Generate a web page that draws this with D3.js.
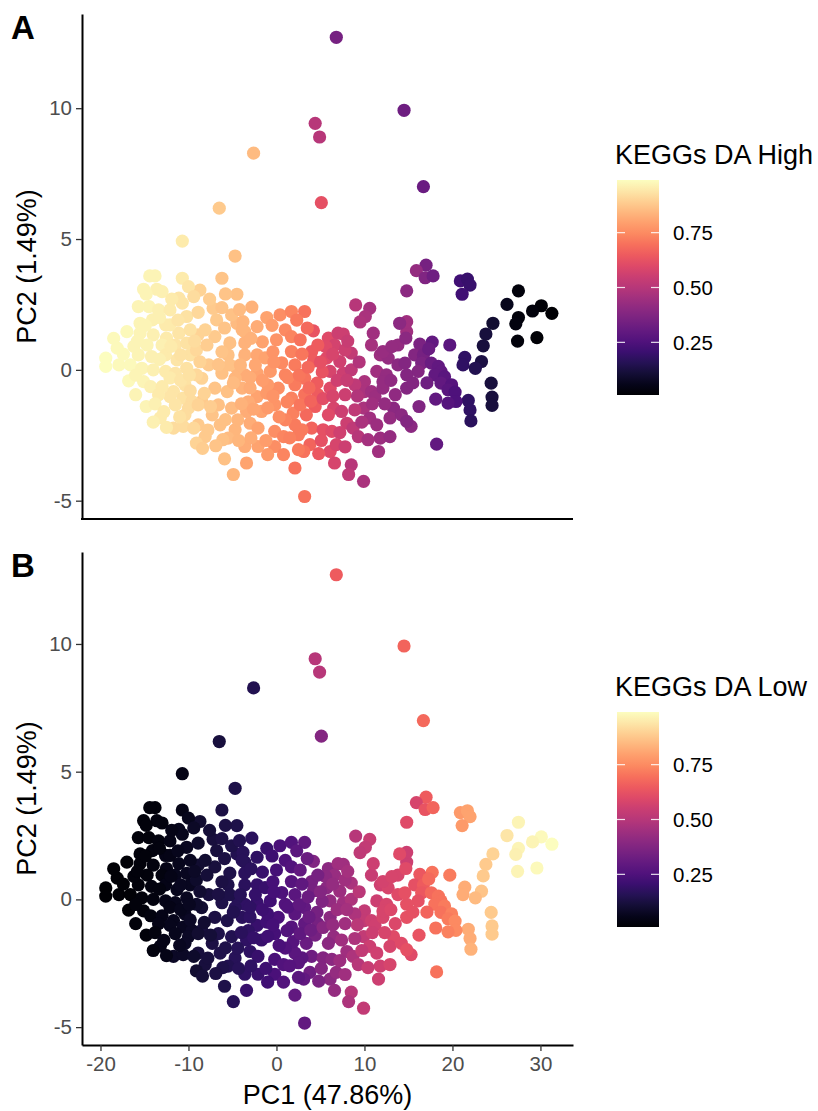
<!DOCTYPE html>
<html><head><meta charset="utf-8">
<script src="https://cdn.jsdelivr.net/npm/d3@7"></script>
<style>body{margin:0;background:#fff} svg{display:block} text{font-family:"Liberation Sans",Arial,sans-serif}</style>
</head><body><svg id="c" width="818" height="1111"></svg>
<script>
// ---- data ----
const pc1 = [
-2.6,-6.5,-10.7,-4.7,6.8,4.4,4.9,14.5,5.1,16.7,
17.0,15.9,16.9,17.8,20.9,21.7,22.0,21.1,14.8,27.5,
26.2,30.1,29.1,31.3,27.5,27.2,24.6,23.8,27.4,29.6,
23.5,23.3,21.4,21.2,22.6,19.7,17.7,16.3,15.7,16.7,
16.5,17.6,18.4,18.7,18.0,19.1,18.7,19.9,19.5,20.3,
16.1,24.4,24.5,24.5,21.8,22.0,22.1,20.4,19.5,18.1,
15.3,18.2,14.8,14.8,9.0,10.6,10.1,3.2,14.0,13.8,
14.7,4.2,5.9,7.0,7.6,6.6,8.5,4.0,4.2,5.7,
7.2,6.1,7.6,8.5,3.2,4.6,6.1,3.2,4.4,6.5,
7.4,5.9,3.4,4.0,2.9,5.3,8.0,8.7,9.3,3.8,
3.1,6.1,6.6,8.5,8.2,9.9,3.2,9.9,10.6,10.0,
10.0,10.8,11.2,12.1,11.4,12.5,11.8,12.7,12.1,13.1,
13.8,14.8,14.8,13.3,12.9,14.2,14.8,11.8,12.9,11.6,
-6.2,-8.7,-4.5,-7.2,-6.2,-6.8,-4.5,-3.8,-2.2,-3.6,
0.4,1.7,1.0,1.7,0.0,-7.0,-8.9,1.7,2.1,1.0,
-3.6,-2.2,-5.5,-0.7,-2.2,-3.6,-4.7,-6.2,-7.7,-8.5,
-7.0,-5.6,-3.9,-2.2,-1.1,0.2,2.1,1.7,-0.2,-1.7,
-3.4,-5.1,-6.6,-8.5,-8.9,-6.4,-4.7,-3.0,-2.1,-0.2,
0.8,2.1,2.5,-0.2,-2.1,-3.6,-5.5,-8.1,-3.4,-4.9,
2.1,-4.5,-13.8,-14.4,-10.7,-15.1,-13.6,-13.0,-10.0,-9.4,
-11.1,-15.7,-14.5,-13.4,-12.1,-10.7,-10.2,-15.5,-14.1,-12.6,
-17.0,-15.5,-14.0,-12.5,-11.1,-9.8,-18.1,-14.7,-13.0,-11.5,
-10.2,-19.4,-19.4,-17.9,-16.6,-15.7,-14.2,-12.6,-11.3,-9.8,
-15.3,-14.0,-12.6,-11.5,-10.2,-16.8,-15.1,-14.3,-13.0,-11.7,
-10.4,-10.6,-9.6,-10.0,-14.8,-11.7,-10.6,-9.4,-9.1,-12.1,
-3.9,5.6,1.9,6.3,2.5,12.1,14.6,-9.1,-7.9,-5.3,
-9.1,-5.3,-3.6,-1.6,-1.3,-3.0,-1.0,-4.4,-7.3,-10.4,
-13.2,-11.5,-13.4,-16.0,-8.9,-12.1,-8.7,-10.9,-12.1,-8.1,
-6.2,-4.1,-2.4,-3.2,-6.1,1.0,0.8,-1.0,2.7,4.7,
5.2,7.8,8.9,6.8,7.8,10.4,13.5,8.9,10.8,9.5,
7.8,4.7,2.7,-0.4,0.6,-1.0,3.7,1.2,
-18.5,-17.4,-16.2,-16.0,-15.8,-14.9,-14.8,-13.3,-13.3,-12.0,
-11.9,-11.2,-10.9,-9.9,-9.3,-8.9,-13.8,-12.8,-12.5,-14.0,
-11.0,-9.8,-8.2,-7.5,-7.8,-8.4,-6.9,-5.9,-7.6,-5.8,
-5.1,-4.2,-2.8,-2.9,-5.9,-6.6,-4.9,-3.0,-1.6,-0.3,
-0.4,-2.6,-4.0,-5.8,-4.3,-2.9,-1.2,0.3,1.5,1.3,
2.9,2.6,3.6,3.9,5.3,5.0,6.4,6.9,6.4,8.0,
8.1,9.4,9.2,9.7,7.2,4.8,5.1,10.9,11.4,12.3,
13.0,11.0,15.5,17.1,17.3,16.2,-1.1,-0.5,2.3,3.5];
const pc2 = [
8.28,6.18,4.92,4.35,12.71,9.42,8.90,9.92,6.39,7.00,
4.00,3.79,3.52,3.59,3.40,3.47,3.24,2.89,3.02,3.02,
2.50,2.45,2.25,2.16,2.00,1.76,1.78,1.37,1.10,1.23,
0.92,0.32,0.48,0.19,0.06,0.95,1.06,0.98,0.57,0.57,
0.26,0.26,0.13,-0.06,-0.19,-0.26,-0.51,-0.57,-0.76,-0.85,
-0.06,-0.51,-1.04,-1.36,-1.17,-1.53,-1.95,-1.21,-1.27,-1.12,
-2.16,-2.84,1.46,1.84,2.48,2.35,2.04,2.23,1.78,0.95,
1.21,1.49,1.21,1.40,1.37,0.95,0.64,0.70,0.34,0.45,
0.32,-0.06,-0.13,0.00,-0.32,-0.51,-0.70,-0.95,-1.40,-1.46,
-1.59,-1.72,-1.72,-2.23,-2.29,-2.29,-2.04,-2.23,-2.55,-2.86,
-3.12,-3.12,-3.56,-3.63,-4.00,-4.26,-4.84,-1.46,-1.84,-0.45,
-0.83,-0.83,-1.02,-0.70,-0.06,-0.19,0.57,0.45,0.70,0.89,
0.19,-0.19,-0.70,-1.46,-1.84,-1.72,-1.97,-2.61,-2.55,-3.12,
3.50,3.05,2.89,2.35,2.38,1.91,1.78,1.84,1.65,1.46,
2.10,2.23,1.53,1.27,1.15,1.27,1.34,0.70,0.19,-0.19,
0.57,0.57,0.57,-0.06,-0.13,-0.19,-0.32,-0.13,0.19,-0.32,
-0.70,-0.83,-0.70,-1.02,-0.89,-0.70,-0.57,-1.08,-1.34,-1.59,
-1.59,-1.46,-1.34,-1.21,-2.10,-2.10,-2.29,-2.04,-2.23,-2.35,
-2.55,-2.10,-3.05,-2.93,-2.93,-2.93,-2.61,-2.55,-3.56,-4.00,
-3.75,0.06,3.59,3.59,3.50,3.08,3.08,2.99,3.18,2.80,
2.74,2.42,2.42,2.29,2.29,2.55,2.04,1.78,1.91,1.72,
1.46,1.40,1.34,1.21,1.40,1.53,0.83,0.95,0.95,0.95,
1.02,0.45,0.13,0.19,0.19,0.57,0.51,0.57,0.38,0.57,
0.06,0.00,-0.06,-0.13,0.06,-0.42,-0.45,-0.64,-0.64,-0.83,
-0.57,-1.08,-1.21,-1.46,-1.40,-2.23,-2.16,-2.23,-2.80,-1.02,
1.53,0.89,-1.65,-2.35,-2.48,-0.45,0.26,0.76,0.95,1.03,
-0.19,0.19,1.03,1.07,0.46,-0.69,-1.45,-1.91,-1.72,-1.72,
-1.83,-1.34,-0.95,-0.95,-1.34,-0.31,0.31,0.57,1.72,1.53,
0.69,0.19,0.19,-1.22,-2.67,-1.91,-3.24,-3.24,-1.34,-0.95,
-0.08,-0.95,-1.53,-2.86,-2.94,-2.67,-0.95,-0.57,0.95,1.83,
0.76,0.95,1.15,0.69,0.27,-0.57,-0.69,-1.22,
1.2,0.6,0.9,-0.2,1.1,1.7,2.9,2.0,0.4,0.9,
2.7,1.9,-0.4,-0.2,1.1,2.2,-1.3,-1.6,-2.2,-2.0,
-1.8,-0.8,-0.9,-1.4,-2.3,-3.0,-2.9,-3.4,2.7,2.9,
2.1,2.3,2.4,1.2,1.6,0.2,-0.5,-0.3,-0.4,0.3,
-1.0,-1.5,-1.3,-1.9,-2.7,-2.6,-2.7,-1.8,-2.6,-0.3,
0.6,-0.2,0.1,-1.2,-1.1,0.3,0.6,-0.4,-1.0,-0.4,
1.1,0.3,-1.0,-2.0,-2.4,-3.2,-2.7,-1.3,-2.1,-1.3,
-0.4,1.4,-0.5,-0.5,0.8,-1.4,2.0,1.7,1.9,1.6];
const daHigh = [
0.85,0.88,0.95,0.86,0.35,0.50,0.50,0.33,0.62,0.32,
0.35,0.42,0.37,0.33,0.22,0.20,0.20,0.22,0.40,0.03,
0.06,0.02,0.03,0.01,0.03,0.04,0.10,0.12,0.03,0.02,
0.12,0.13,0.18,0.18,0.15,0.28,0.30,0.36,0.38,0.35,
0.36,0.32,0.30,0.30,0.30,0.28,0.30,0.27,0.28,0.25,
0.38,0.12,0.12,0.12,0.18,0.18,0.17,0.25,0.27,0.30,
0.40,0.30,0.45,0.45,0.50,0.46,0.47,0.70,0.40,0.42,
0.40,0.63,0.60,0.55,0.55,0.57,0.53,0.65,0.65,0.60,
0.56,0.58,0.55,0.52,0.70,0.65,0.60,0.70,0.65,0.58,
0.55,0.60,0.68,0.67,0.72,0.62,0.55,0.52,0.50,0.67,
0.70,0.60,0.58,0.50,0.52,0.47,0.70,0.47,0.45,0.47,
0.47,0.45,0.44,0.42,0.45,0.42,0.44,0.42,0.43,0.42,
0.40,0.38,0.38,0.40,0.42,0.40,0.38,0.44,0.42,0.45,
0.87,0.90,0.86,0.88,0.87,0.88,0.85,0.84,0.82,0.84,
0.76,0.74,0.75,0.74,0.77,0.88,0.90,0.73,0.72,0.74,
0.83,0.81,0.86,0.78,0.80,0.82,0.84,0.86,0.88,0.90,
0.87,0.86,0.83,0.80,0.78,0.76,0.72,0.73,0.77,0.80,
0.82,0.85,0.86,0.88,0.88,0.86,0.84,0.82,0.80,0.76,
0.74,0.72,0.72,0.76,0.80,0.82,0.85,0.88,0.80,0.84,
0.70,0.84,0.97,0.97,0.95,0.97,0.96,0.96,0.94,0.92,
0.94,0.97,0.97,0.96,0.95,0.94,0.93,0.97,0.96,0.95,
0.98,0.97,0.96,0.95,0.94,0.93,0.98,0.97,0.96,0.94,
0.93,0.99,0.99,0.98,0.98,0.97,0.96,0.95,0.94,0.93,
0.97,0.96,0.95,0.94,0.93,0.98,0.97,0.96,0.95,0.94,
0.93,0.93,0.92,0.92,0.97,0.92,0.92,0.91,0.90,0.94,
0.84,0.60,0.73,0.60,0.72,0.42,0.38,0.91,0.89,0.86,
0.91,0.86,0.83,0.80,0.80,0.82,0.78,0.84,0.87,0.92,
0.95,0.94,0.95,0.97,0.90,0.95,0.90,0.93,0.95,0.90,
0.87,0.84,0.81,0.82,0.86,0.74,0.74,0.78,0.71,0.65,
0.63,0.55,0.52,0.58,0.55,0.46,0.41,0.52,0.46,0.48,
0.55,0.65,0.70,0.77,0.75,0.78,0.68,0.74,
0.98,0.98,0.97,0.97,0.97,0.97,0.97,0.96,0.96,0.95,
0.95,0.94,0.94,0.93,0.92,0.91,0.96,0.95,0.95,0.96,
0.93,0.92,0.90,0.89,0.88,0.89,0.87,0.86,0.89,0.87,
0.86,0.85,0.83,0.83,0.87,0.87,0.85,0.82,0.79,0.77,
0.77,0.81,0.83,0.86,0.84,0.82,0.79,0.76,0.73,0.74,
0.71,0.71,0.68,0.67,0.61,0.62,0.58,0.56,0.58,0.54,
0.54,0.49,0.49,0.47,0.56,0.64,0.62,0.45,0.44,0.42,
0.41,0.45,0.38,0.33,0.32,0.37,0.80,0.79,0.72,0.68];
const daLow = [
0.15,0.12,0.05,0.14,0.65,0.50,0.50,0.67,0.38,0.68,
0.65,0.58,0.63,0.67,0.78,0.80,0.80,0.78,0.60,0.97,
0.94,0.98,0.97,0.99,0.97,0.96,0.90,0.88,0.97,0.98,
0.88,0.87,0.82,0.82,0.85,0.72,0.70,0.64,0.62,0.65,
0.64,0.68,0.70,0.70,0.70,0.72,0.70,0.73,0.72,0.75,
0.62,0.88,0.88,0.88,0.82,0.82,0.83,0.75,0.73,0.70,
0.60,0.70,0.55,0.55,0.50,0.54,0.53,0.30,0.60,0.58,
0.60,0.37,0.40,0.45,0.45,0.43,0.47,0.35,0.35,0.40,
0.44,0.42,0.45,0.48,0.30,0.35,0.40,0.30,0.35,0.42,
0.45,0.40,0.32,0.33,0.28,0.38,0.45,0.48,0.50,0.33,
0.30,0.40,0.42,0.50,0.48,0.53,0.30,0.53,0.55,0.53,
0.53,0.55,0.56,0.58,0.55,0.58,0.56,0.58,0.57,0.58,
0.60,0.62,0.62,0.60,0.58,0.60,0.62,0.56,0.58,0.55,
0.13,0.10,0.14,0.12,0.13,0.12,0.15,0.16,0.18,0.16,
0.24,0.26,0.25,0.26,0.23,0.12,0.10,0.27,0.28,0.26,
0.17,0.19,0.14,0.22,0.20,0.18,0.16,0.14,0.12,0.10,
0.13,0.14,0.17,0.20,0.22,0.24,0.28,0.27,0.23,0.20,
0.18,0.15,0.14,0.12,0.12,0.14,0.16,0.18,0.20,0.24,
0.26,0.28,0.28,0.24,0.20,0.18,0.15,0.12,0.20,0.16,
0.30,0.16,0.03,0.03,0.05,0.03,0.04,0.04,0.06,0.08,
0.06,0.03,0.03,0.04,0.05,0.06,0.07,0.03,0.04,0.05,
0.02,0.03,0.04,0.05,0.06,0.07,0.02,0.03,0.04,0.06,
0.07,0.01,0.01,0.02,0.02,0.03,0.04,0.05,0.06,0.07,
0.03,0.04,0.05,0.06,0.07,0.02,0.03,0.04,0.05,0.06,
0.07,0.07,0.08,0.08,0.03,0.08,0.08,0.09,0.10,0.06,
0.16,0.40,0.27,0.40,0.28,0.58,0.62,0.09,0.11,0.14,
0.09,0.14,0.17,0.20,0.20,0.18,0.22,0.16,0.13,0.08,
0.05,0.06,0.05,0.03,0.10,0.05,0.10,0.07,0.05,0.10,
0.13,0.16,0.19,0.18,0.14,0.26,0.26,0.22,0.29,0.35,
0.37,0.45,0.48,0.42,0.45,0.54,0.59,0.48,0.54,0.52,
0.45,0.35,0.30,0.23,0.25,0.22,0.32,0.26,
0.02,0.02,0.03,0.03,0.03,0.03,0.03,0.04,0.04,0.05,
0.05,0.06,0.06,0.07,0.08,0.09,0.04,0.05,0.05,0.04,
0.07,0.08,0.10,0.11,0.12,0.11,0.13,0.14,0.11,0.13,
0.14,0.15,0.17,0.17,0.13,0.13,0.15,0.18,0.21,0.23,
0.23,0.19,0.17,0.14,0.16,0.18,0.21,0.24,0.27,0.26,
0.29,0.29,0.32,0.33,0.39,0.38,0.42,0.44,0.42,0.46,
0.46,0.51,0.51,0.53,0.44,0.36,0.38,0.55,0.56,0.58,
0.59,0.55,0.62,0.67,0.68,0.63,0.20,0.21,0.28,0.32];
const xTicks = [-20,-10,0,10,20,30];
const yTicks = [-5,0,5,10];
const legendTicks = [0.25,0.50,0.75];
const xTitle = "PC1 (47.86%)";
const yTitle = "PC2 (1.49%)";
const xDomain = [-22.1, 33.7];
const yDomain = [-5.7, 13.6];
const colorDomain = [0.01, 0.99];

// ---- layout ----
const svg = d3.select("#c");
const left = 82, right = 573;
const x = d3.scaleLinear().domain(xDomain).range([left, right]);
const color = d3.scaleSequential(d3.interpolateMagma).domain(colorDomain);
const TICK_FS = "20.5px", TITLE_FS = "27px";
const FONT = '"Liberation Sans",Arial,sans-serif';

const defs = svg.append("defs");
const grad = defs.append("linearGradient").attr("id","magma").attr("x1",0).attr("y1",1).attr("x2",0).attr("y2",0);
d3.range(0, 1.0001, 0.05).forEach(t => grad.append("stop").attr("offset", t).attr("stop-color", d3.interpolateMagma(t)));

const panels = [
  {tag:"A", title:"KEGGs DA High", values:daHigh, top:14, bottom:519, barTop:180, showX:false},
  {tag:"B", title:"KEGGs DA Low",  values:daLow,  top:552, bottom:1045, barTop:712, showX:true}
];

panels.forEach(p => {
  const y = d3.scaleLinear().domain(yDomain).range([p.bottom, p.top]);
  const g = svg.append("g");
  const pts = pc1.map((v,i) => ({x:v, y:pc2[i], c:p.values[i]}));
  g.append("g").selectAll("circle").data(pts).join("circle")
    .attr("cx", d => x(d.x)).attr("cy", d => y(d.y)).attr("r", 6.6)
    .attr("fill", d => color(d.c));

  // y axis
  const ya = g.append("g").attr("transform", `translate(${left},0)`)
    .call(d3.axisLeft(y).tickValues(yTicks).tickSize(6).tickSizeOuter(0).tickPadding(4).tickFormat(d => String(d)));
  ya.select(".domain").attr("stroke","#000").attr("stroke-width",2);
  ya.selectAll(".tick line").attr("stroke","#333").attr("stroke-width",1.3);
  ya.selectAll(".tick text").attr("fill","#4d4d4d").style("font-size",TICK_FS).style("font-family",FONT);

  // x axis
  if (p.showX) {
    const xa = g.append("g").attr("transform", `translate(0,${p.bottom})`)
      .call(d3.axisBottom(x).tickValues(xTicks).tickSize(6).tickSizeOuter(0).tickPadding(5).tickFormat(d => String(d)));
    xa.select(".domain").attr("stroke","#000").attr("stroke-width",2);
    xa.selectAll(".tick line").attr("stroke","#333").attr("stroke-width",1.3);
    xa.selectAll(".tick text").attr("fill","#4d4d4d").style("font-size",TICK_FS).style("font-family",FONT);
    g.append("text").attr("x", (left+right)/2).attr("y", 1104).attr("text-anchor","middle")
      .style("font-size",TITLE_FS).text(xTitle);
  } else {
    g.append("line").attr("x1", left-1).attr("x2", right).attr("y1", p.bottom).attr("y2", p.bottom)
      .attr("stroke","#000").attr("stroke-width",2);
  }
  // y title
  g.append("text").attr("transform", `translate(36,${(p.top+p.bottom)/2}) rotate(-90)`)
    .attr("text-anchor","middle").style("font-size",TITLE_FS).text(yTitle);
  // tag
  g.append("text").attr("x", 11).attr("y", p.top + 25).style("font-size","33px").style("font-weight","bold").text(p.tag);

  // legend
  const barH = 215, barW = 42, bx = 617;
  const ly = d3.scaleLinear().domain(colorDomain).range([p.barTop + barH, p.barTop]);
  g.append("text").attr("x", 615).attr("y", p.barTop - 16).style("font-size",TITLE_FS).text(p.title);
  g.append("rect").attr("x", bx).attr("y", p.barTop).attr("width", barW).attr("height", barH).attr("fill","url(#magma)");
  legendTicks.forEach(t => {
    const yy = ly(t);
    g.append("line").attr("x1",bx).attr("x2",bx+8).attr("y1",yy).attr("y2",yy).attr("stroke","#fff").attr("stroke-width",1.2).attr("stroke-opacity",0.85);
    g.append("line").attr("x1",bx+barW-8).attr("x2",bx+barW).attr("y1",yy).attr("y2",yy).attr("stroke","#fff").attr("stroke-width",1.2).attr("stroke-opacity",0.85);
    g.append("text").attr("x", 673).attr("y", yy).attr("dy","0.36em").style("font-size",TICK_FS).attr("fill","#000").text(d3.format(".2f")(t));
  });
});
</script></body></html>
